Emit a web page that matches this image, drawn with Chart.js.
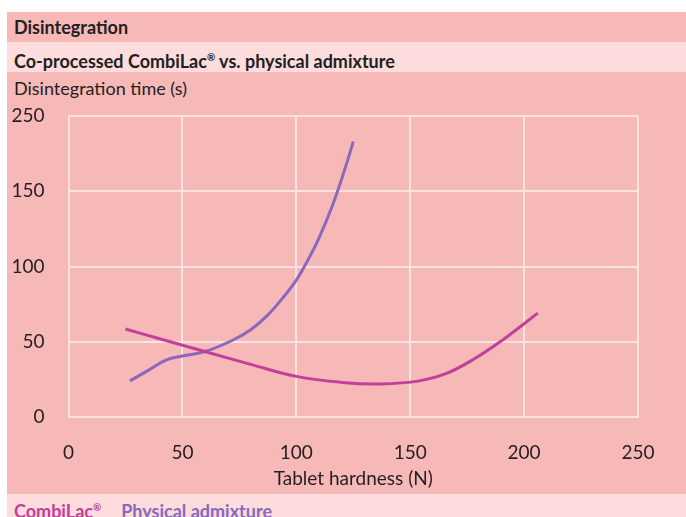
<!DOCTYPE html>
<html>
<head>
<meta charset="utf-8">
<script src="https://cdn.jsdelivr.net/npm/chart.js@4.4.1/dist/chart.umd.min.js"></script>
<style>
  body { margin: 0; background: #fff; width: 686px; height: 517px; overflow: hidden; }
  #panel { position: absolute; left: 7px; top: 12px; width: 679px; height: 505px; background: #f7b8b8;
           font-family: Lato, Roboto, sans-serif; color: #231f20; }
  .band { position: absolute; left: 0; width: 679px; height: 30px; line-height: 30px; padding-left: 7px;
          box-sizing: border-box; font-weight: bold; font-size: 18px; }
  #title { top: 0; background: #f7b8b8; }
  #subtitle { top: 30px; background: #fcdcdc; }
  #ylabel { position: absolute; left: 7px; top: 65px; font-size: 18px; }
  #chartBox { position: absolute; left: 0; top: 60px; width: 679px; height: 422px; }
  #legend { position: absolute; left: 0; top: 482px; width: 679px; height: 23px; background: #fcdcdc;
            font-weight: bold; font-size: 18px; line-height: 27px; padding-left: 7px; box-sizing: border-box; }
  #legend span { margin-right: 20px; }
</style>
</head>
<body>
<div id="panel">
  <div class="band" id="title">Disintegration</div>
  <div class="band" id="subtitle">Co-processed CombiLac<sup style="font-size:10px">®</sup> vs. physical admixture</div>
  <div id="ylabel">Disintegration time (s)</div>
  <div id="chartBox"><canvas id="disChart"></canvas></div>
  <div id="legend"></div>
</div>
<script>
// data
const seriesNames = ["CombiLac®", "Physical admixture"];
const combiX = [25, 40, 61, 80, 100, 120, 137, 154, 166, 178, 190, 200, 206];
const combiY = [58.5, 52, 43, 35, 27, 23, 22, 24, 29, 38.5, 50.5, 62, 69];
const physX = [27, 35, 43, 50, 60, 72, 80, 87, 94, 100, 105, 110, 116, 122, 125];
const physY = [24, 31, 38, 40.5, 43.5, 51, 58, 67, 79, 91, 104, 119, 141, 168, 183];
const xTicks = [0, 50, 100, 150, 200, 250];
const yTicks = [0, 50, 100, 150, 200];
const yTickLabels = ["0", "50", "100", "150", "250"];

const colors = ["#c1409b", "#8a68bd"];
const fontFam = "Lato, Roboto, sans-serif";
const gridColor = "#fde2e2";

function toPoints(xs, ys) {
  return xs.map((x, i) => ({ x: x, y: ys[i] }));
}

const ctx = document.getElementById("disChart").getContext("2d");
const disChart = new Chart(ctx, {
  type: "line",
  data: {
    datasets: [
      {
        label: seriesNames[0],
        data: toPoints(combiX, combiY),
        borderColor: colors[0],
        borderWidth: 3,
        pointRadius: 0,
        tension: 0.4,
      },
      {
        label: seriesNames[1],
        data: toPoints(physX, physY),
        borderColor: colors[1],
        borderWidth: 3,
        pointRadius: 0,
        tension: 0.4,
      },
    ],
  },
  options: {
    responsive: true,
    maintainAspectRatio: false,
    animation: false,
    layout: { padding: { top: 44, right: 48, left: 0, bottom: 0 } },
    scales: {
      x: {
        type: "linear",
        min: 0,
        max: 250,
        afterBuildTicks: (s) => { s.ticks = xTicks.map((v) => ({ value: v })); },
        afterFit: (s) => { s.height = 77; },
        grid: { color: gridColor, lineWidth: 2, drawTicks: false },
        border: { color: gridColor, width: 2 },
        ticks: { color: "#231f20", padding: 24, font: { family: fontFam, size: 19 } },
        title: {
          display: true,
          text: "Tablet hardness (N)",
          color: "#231f20",
          padding: { top: 5 },
          font: { family: fontFam, size: 19 },
        },
      },
      y: {
        min: 0,
        max: 200,
        afterBuildTicks: (s) => { s.ticks = yTicks.map((v) => ({ value: v })); },
        afterFit: (s) => { s.width = 61.5; },
        grid: { color: gridColor, lineWidth: 2, drawTicks: false },
        border: { color: gridColor, width: 2 },
        ticks: {
          color: "#231f20",
          padding: 24,
          font: { family: fontFam, size: 19 },
          callback: (v) => yTickLabels[yTicks.indexOf(v)],
        },
      },
    },
    plugins: {
      legend: { display: false },
      tooltip: { enabled: false },
    },
  },
});

// legend as coloured text
const legendEl = document.getElementById("legend");
disChart.data.datasets.forEach((ds) => {
  const sp = document.createElement("span");
  sp.style.color = ds.borderColor;
  sp.innerHTML = ds.label.replace("®", '<sup style="font-size:10px">®</sup>');
  legendEl.appendChild(sp);
});
</script>
</body>
</html>
